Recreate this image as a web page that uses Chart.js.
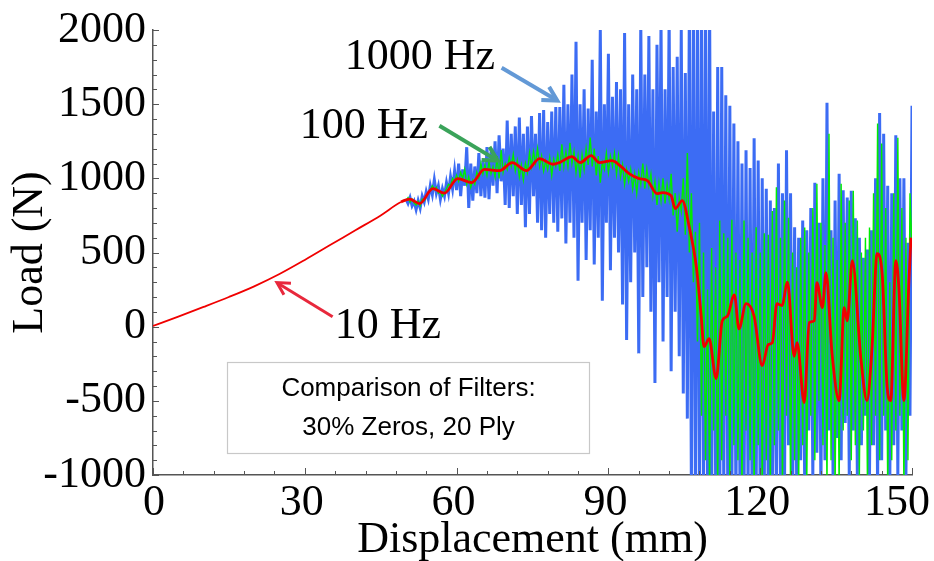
<!DOCTYPE html>
<html><head><meta charset="utf-8">
<script src="https://cdn.jsdelivr.net/npm/chart.js@4.4.1/dist/chart.umd.min.js"></script>
<style>html,body{margin:0;padding:0;background:#fff}canvas{display:block}</style>
</head><body>
<canvas id="c" width="934" height="561"></canvas>
<script>
// ---- sampling of the filtered signals (mm) ----
const sampleStart = 50;
const sampleStep = 0.4;

// 1000 Hz filter (N), one value per sample
const blue1000Hz = [
860, 830, 870, 815, 845,
790, 850, 800, 880, 840,
910, 860, 950, 890, 990,
900, 950, 860, 930, 880,
970, 900, 1010, 930, 1050,
920, 1100, 880, 1060, 950,
1210, 800, 1100, 850, 1080,
900, 1170, 880, 1120, 870,
1210, 860, 1180, 950, 1250,
900, 1290, 980, 1200, 820,
1390, 800, 1300, 880, 1350,
760, 1410, 820, 1300, 670,
1350, 760, 1420, 880, 1300,
700, 1440, 650, 1460, 600,
1380, 760, 1450, 700, 1480,
640, 1480, 730, 1630, 560,
1500, 700, 1700, 600, 1920,
310, 1500, 700, 1600, 450,
1470, 650, 1800, 420, 1450,
600, 2000, 175, 1500, 700,
1840, 380, 1550, 600, 1650,
500, 1600, 150, 1980, -90,
1500, 300, 1700, 500, 1600,
-180, 2050, 200, 1700, 400,
1960, 100, 1600, -380, 1900,
300, 2050, -100, 1600, 200,
2100, -300, 1750, 100, 1820,
-200, 2000, -450, 1710, -620,
2200, -1100, 2200, -1200, 2200,
-1200, 2200, -1100, 2200, -1200,
2200, -1200, 1450, -1100, 1750,
-1200, 1750, -1100, 1560, -1200,
1490, -1100, 1370, -1200, 1250,
-1100, 1100, -1200, 1190, -1100,
1070, -1200, 1270, -1100, 1120,
-1200, 1000, -1100, 930, -1200,
850, -1100, 800, -1200, 1100,
-1000, 900, -1100, 1190, -800,
900, -1200, 670, -1000, 600,
-900, 715, -1100, 650, -700,
800, -1000, 970, -850, 700,
-1100, 1000, -900, 1510, -700,
650, -1000, 850, -750, 1030,
-900, 920, -650, 870, -1000,
917, -700, 730, -1000, 600,
-800, 465, -600, 520, -1000,
650, -800, 1000, -1100, 1440,
-900, 1300, -700, 950, -1100,
900, -800, 1290, -1000, 1000,
-700, 1000, -1000, 566, -600,
1490
];

// 100 Hz filter (N), same sampling
const green100Hz = [
850, 870, 840, 860, 835,
820, 845, 815, 860, 850,
880, 900, 920, 950, 925,
940, 900, 910, 880, 905,
930, 960, 950, 1000, 980,
1020, 980, 1040, 1000, 1060,
960, 1010, 940, 990, 960,
1040, 1000, 1100, 1030, 1090,
1020, 1110, 1030, 1080, 1010,
1150, 1000, 1190, 1040, 1100,
1060, 1140, 1080, 1160, 1050,
1120, 1010, 1090, 990, 1100,
1040, 1170, 1080, 1180, 1100,
1200, 1080, 1150, 1050, 1120,
1060, 1140, 1020, 1130, 1080,
1160, 1050, 1230, 1080, 1180,
1080, 1240, 1100, 1180, 1040,
1150, 1005, 1160, 1060, 1200,
1090, 1275, 1080, 1200, 1020,
1150, 970, 1110, 1060, 1170,
1040, 1150, 1080, 1170, 1030,
1150, 1010, 1090, 960, 1060,
980, 1060, 930, 1030, 900,
1040, 960, 1100, 930, 1060,
950, 1030, 880, 980, 820,
970, 850, 1000, 830, 960,
860, 1030, 750, 900, 640,
870, 780, 1000, 620, 1170,
500, 900, 300, 640, -100,
700, -600, 500, -900, 250,
-1100, 530, -700, 400, -1100,
715, -900, 630, -600, 600,
-1100, 720, -800, 500, -900,
450, -1100, 715, -700, 600,
-900, 500, -1100, 670, -800,
500, -1100, 630, -900, 620,
-1100, 780, -800, 940, -700,
600, -1100, 850, -600, 735,
-1100, 500, -900, 400, -1100,
600, -800, 668, -1100, 500,
-600, 800, -900, 964, -500,
700, -800, 550, -1100, 1300,
-900, 600, -1100, 450, -1100,
964, -700, 700, -600, 850,
-900, 917, -800, 715, -1000,
500, -700, 600, -1100, 668,
-800, 900, -600, 1369, -900,
1234, -600, 800, -1100, 300,
-900, 900, -700, 1274, -600,
800, -1100, 600, -900, 900,
533
];

// 10 Hz filter: displacement (mm) and load (N)
const red10HzX = [0, 5, 10, 15, 20, 25, 30, 35, 40, 45, 49, 50.7, 52.7, 55.3, 57.6, 60.2, 63, 65.5, 68.5, 71, 73.8, 76.4, 79, 80.3, 82.8, 84.4, 86.6, 88.2, 90.7, 92.3, 94.1, 96.1, 97.7, 99.6, 100.7, 102.4, 103.2, 104.6, 106, 107.4, 108.3, 108.9, 109.9, 111.3, 112.5, 113.5, 114.9, 115.8, 117.2, 118.8, 120.4, 121.6, 122.4, 123.3, 124.3, 125.4, 126.7, 127.3, 128.7, 129.7, 130.7, 131.2, 132.3, 133, 134.2, 135.6, 136.6, 137.2, 138.2, 139.9, 141.1, 142.1, 143.1, 144.1, 145.1, 145.8, 146.8, 147.4, 148.4, 149.4, 149.8];
const red10Hz = [5, 68, 133, 200, 272, 355, 450, 550, 650, 750, 840, 860, 830, 930, 900, 998, 971, 1060, 1052, 1106, 1052, 1133, 1095, 1106, 1146, 1106, 1153, 1106, 1119, 1086, 1032, 998, 985, 897, 904, 883, 796, 850, 668, 398, 88, -135, -81, -350, 40, 70, 215, -15, 155, 70, -263, -120, -108, 155, 142, 300, -200, -108, -512, 27, 40, 297, 128, 364, -182, -499, 128, 40, 445, -216, -499, -142, 492, 357, -411, -499, 445, 263, -499, 310, 600];

const xTickValues = [0, 30, 60, 90, 120, 150];
const yTickValues = [-1000, -500, 0, 500, 1000, 1500, 2000];

const seriesNames = ['1000 Hz', '100 Hz', '10 Hz'];
const boxLines = ['Comparison of Filters:', '30% Zeros, 20 Ply'];

// ---- build points ----
const bluePts = blue1000Hz.map((v, i) => ({x: sampleStart + i * sampleStep, y: v}));
const greenPts = green100Hz.map((v, i) => ({x: sampleStart + i * sampleStep, y: v}));
const redPts = red10Hz.map((v, i) => ({x: red10HzX[i], y: v}));

const SERIF = '"Liberation Serif", "Times New Roman", serif';
const SANS = '"Liberation Sans", Arial, sans-serif';

// annotation placement in data units
const notes = [
  {text: seriesNames[0], at: [37.9, 1740], arrow: [[68.9, 1746], [79.9, 1524]], color: '#6399d6', w: 4, head: 16},
  {text: seriesNames[1], at: [29.0, 1274], arrow: [[56.6, 1355], [68.1, 1119]], color: '#3aa35a', w: 4, head: 16},
  {text: seriesNames[2], at: [35.9, -74], arrow: [[35.5, 67], [24.5, 297]], color: '#e8283c', w: 3, head: 14}
];
const box = {x1: 14.6, x2: 86.2, y1: -236, y2: -850, cx: 50.5, lines: [-418, -681]};

function arrow(ctx, x1, y1, x2, y2, color, w, head) {
  const a = Math.atan2(y2 - y1, x2 - x1);
  ctx.save();
  ctx.strokeStyle = color; ctx.lineWidth = w; ctx.lineCap = 'butt'; ctx.lineJoin = 'miter';
  ctx.beginPath(); ctx.moveTo(x1, y1); ctx.lineTo(x2 - Math.cos(a) * 2, y2 - Math.sin(a) * 2); ctx.stroke();
  ctx.beginPath();
  ctx.moveTo(x2 - head * Math.cos(a - 0.5), y2 - head * Math.sin(a - 0.5));
  ctx.lineTo(x2, y2);
  ctx.lineTo(x2 - head * Math.cos(a + 0.5), y2 - head * Math.sin(a + 0.5));
  ctx.stroke();
  ctx.restore();
}

const decor = {
  id: 'decor',
  afterDraw(chart) {
    const {ctx, scales: {x, y}} = chart;
    ctx.save();
    // inward ticks
    ctx.strokeStyle = '#555'; ctx.lineWidth = 1;
    for (let v = -1000; v <= 2000; v += 100) {
      const py = Math.round(y.getPixelForValue(v)) + 0.5;
      const len = v % 500 === 0 ? 6 : 4;
      ctx.beginPath(); ctx.moveTo(x.left, py); ctx.lineTo(x.left + len, py); ctx.stroke();
    }
    for (let v = 0; v <= 150; v += 6) {
      const px = Math.round(x.getPixelForValue(v)) + 0.5;
      const len = v % 30 === 0 ? 7 : 4;
      ctx.beginPath(); ctx.moveTo(px, y.bottom); ctx.lineTo(px, y.bottom - len); ctx.stroke();
    }
    // x tick labels (kept inside the canvas at the right end)
    ctx.fillStyle = '#000'; ctx.font = '44px ' + SERIF;
    ctx.textAlign = 'center'; ctx.textBaseline = 'alphabetic';
    xTickValues.forEach((v, i) => {
      const t = String(v);
      const w = ctx.measureText(t).width;
      const px = x.getPixelForValue(v) - (i === 0 ? -1 : 3);
      ctx.fillText(t, Math.min(px, chart.width - 4 - w / 2), y.bottom + 40);
    });
    // box
    const bx1 = x.getPixelForValue(box.x1), bx2 = x.getPixelForValue(box.x2);
    const by1 = y.getPixelForValue(box.y1), by2 = y.getPixelForValue(box.y2);
    ctx.fillStyle = '#fff';
    ctx.fillRect(bx1, by1, bx2 - bx1, by2 - by1);
    ctx.strokeStyle = '#c8c8c8'; ctx.lineWidth = 1.2;
    ctx.strokeRect(Math.round(bx1) + 0.5, Math.round(by1) + 0.5, Math.round(bx2 - bx1), Math.round(by2 - by1));
    ctx.fillStyle = '#000'; ctx.font = '26px ' + SANS;
    ctx.textAlign = 'center'; ctx.textBaseline = 'middle';
    boxLines.forEach((t, i) => ctx.fillText(t, x.getPixelForValue(box.cx), y.getPixelForValue(box.lines[i])));
    // annotations
    ctx.font = '44px ' + SERIF; ctx.textAlign = 'left'; ctx.textBaseline = 'alphabetic';
    notes.forEach(n => {
      ctx.fillStyle = '#000';
      ctx.fillText(n.text, x.getPixelForValue(n.at[0]), y.getPixelForValue(n.at[1]));
      arrow(ctx, x.getPixelForValue(n.arrow[0][0]), y.getPixelForValue(n.arrow[0][1]),
                 x.getPixelForValue(n.arrow[1][0]), y.getPixelForValue(n.arrow[1][1]), n.color, n.w, n.head);
    });
    ctx.restore();
  }
};

new Chart(document.getElementById('c'), {
  type: 'line',
  data: {
    datasets: [
      {label: seriesNames[2], data: redPts, borderColor: '#f00000', borderWidth: 2.8, order: 0, cubicInterpolationMode: 'monotone', clip: 0,
       segment: {borderWidth: c => c.p0.parsed.x < 48 ? 1.8 : 2.8}},
      {label: seriesNames[1], data: greenPts, borderColor: '#00ec00', borderWidth: 1.4, order: 1, tension: 0, clip: 0},
      {label: seriesNames[0], data: bluePts, borderColor: '#3c6cf4', borderWidth: 3, order: 2, tension: 0, clip: 0}
    ]
  },
  options: {
    responsive: false,
    animation: false,
    devicePixelRatio: 1,
    layout: {padding: {top: 30, right: 22, left: 0, bottom: 0}},
    elements: {point: {radius: 0, hoverRadius: 0}},
    plugins: {legend: {display: false}, tooltip: {enabled: false}},
    events: [],
    scales: {
      x: {
        type: 'linear', min: 0, max: 150,
        afterBuildTicks: s => { s.ticks = xTickValues.map(v => ({value: v})); },
        afterFit: s => { s.height = 86; s.paddingLeft = 0; s.paddingRight = 0; },
        grid: {display: true, drawOnChartArea: false, drawTicks: false},
        border: {display: true, color: '#555', width: 1.5},
        ticks: {display: false},
        title: {display: true, text: 'Displacement (mm)', color: '#000', font: {family: SERIF, size: 44, lineHeight: 1}, padding: {top: 0, bottom: -1}}
      },
      y: {
        type: 'linear', min: -1000, max: 2000,
        afterBuildTicks: s => { s.ticks = yTickValues.map(v => ({value: v})); },
        afterFit: s => { s.width = 153; s.paddingTop = 0; s.paddingBottom = 0; },
        grid: {display: true, drawOnChartArea: false, drawTicks: false},
        border: {display: true, color: '#555', width: 1.5},
        ticks: {color: '#000', font: {family: SERIF, size: 44}, padding: 7, autoSkip: false, callback: v => String(v)},
        title: {display: true, text: 'Load (N)', color: '#000', font: {family: SERIF, size: 44, lineHeight: 1}, padding: {top: 8, bottom: 0}}
      }
    }
  },
  plugins: [decor]
});
</script>
</body></html>
